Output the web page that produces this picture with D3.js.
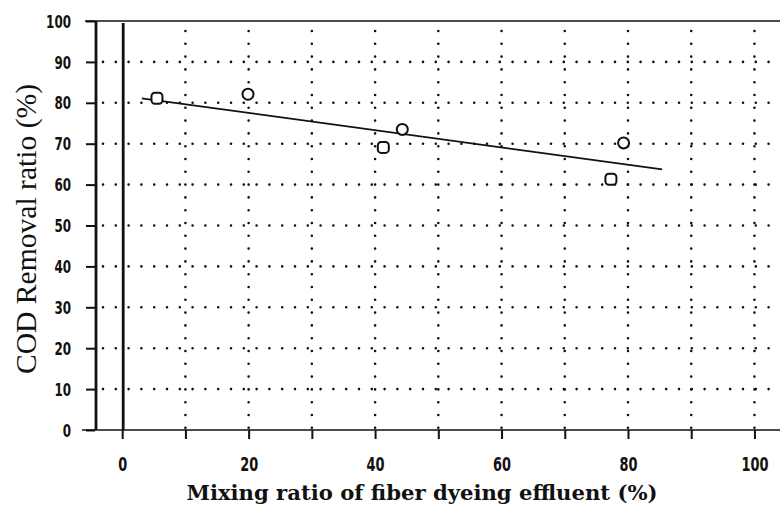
<!DOCTYPE html>
<html>
<head>
<meta charset="utf-8">
<script src="https://cdn.jsdelivr.net/npm/d3@7"></script>
<style>
  body { margin: 0; background: #fff; }
  svg { display: block; }
</style>
</head>
<body>
<script>
//////////////////////////////////////////////////////////////////////////////
// Data
//////////////////////////////////////////////////////////////////////////////
// open circles
let circleMix = [19.9, 44.3, 79.3]
let circleCod = [82.1, 73.5, 70.2]
// open (rounded) squares
let squareMix = [5.5, 41.3, 77.3]
let squareCod = [81.1, 69.1, 61.3]
// fitted line end points
let fitMix = [3.1, 85.4]
let fitCod = [81.1, 63.7]

let yTicks = [0, 10, 20, 30, 40, 50, 60, 70, 80, 90, 100]
let xTicks = [0, 10, 20, 30, 40, 50, 60, 70, 80, 90, 100]
let xLabels = [0, 20, 40, 60, 80, 100]

let xTitle = 'Mixing ratio of fiber dyeing effluent (%)'
let yTitle = 'COD Removal ratio (%)'

//////////////////////////////////////////////////////////////////////////////
let width = 780
let height = 510
let ink = '#111'
let tickFont = '"DejaVu Sans Condensed", "DejaVu Sans", sans-serif'

let svg = d3
  .select('body')
  .append('svg')
  .attr('width', width)
  .attr('height', height)

let x = d3.scaleLinear().domain([-4.3, 104.2]).range([95, 781])
let y = d3.scaleLinear().domain([0, 100]).range([430, 21])

// dotted grid
let dots = '0 12.8'
svg
  .append('g')
  .selectAll('line')
  .data(yTicks.filter(d => d > 0 && d < 100))
  .join('line')
  .attr('x1', x(-4.3) + 8)
  .attr('x2', width)
  .attr('y1', d => y(d))
  .attr('y2', d => y(d))
  .attr('stroke', ink)
  .attr('stroke-width', 2.6)
  .attr('stroke-linecap', 'round')
  .attr('stroke-dasharray', dots)

svg
  .append('g')
  .selectAll('line')
  .data(xTicks.filter(d => d > 0))
  .join('line')
  .attr('x1', d => x(d))
  .attr('x2', d => x(d))
  .attr('y1', y(100) + 10)
  .attr('y2', y(0))
  .attr('stroke', ink)
  .attr('stroke-width', 2.6)
  .attr('stroke-linecap', 'round')
  .attr('stroke-dasharray', dots)

// frame: top and bottom thin lines, thick left axis and thick zero line
svg
  .append('line')
  .attr('x1', 85)
  .attr('x2', width)
  .attr('y1', y(100))
  .attr('y2', y(100))
  .attr('stroke', ink)
  .attr('stroke-width', 1.6)

let xAxis = d3
  .axisBottom(x)
  .tickValues(xTicks)
  .tickSize(9)
  .tickFormat(d => (xLabels.includes(d) ? d : ''))
let xg = svg
  .append('g')
  .attr('transform', `translate(0,${y(0)})`)
  .call(xAxis)
xg.select('.domain').remove()
xg.append('line')
  .attr('x1', 82)
  .attr('x2', width)
  .attr('stroke', ink)
  .attr('stroke-width', 1.6)
xg.selectAll('.tick line').attr('stroke', ink).attr('stroke-width', 2)
// squeeze the digits so they look tall and narrow like the scan
xg.selectAll('.tick text')
  .attr('fill', ink)
  .attr('y', 28)
  .attr('textLength', d => String(d).length * 9)
  .attr('lengthAdjust', 'spacingAndGlyphs')
  .style('font-family', tickFont)
  .style('font-weight', 'bold')
  .style('font-size', '19px')

let yAxis = d3.axisLeft(y).tickValues(yTicks).tickSize(9)
let yg = svg
  .append('g')
  .attr('transform', `translate(${x(-4.3)},0)`)
  .call(yAxis)
yg.select('.domain').remove()
yg.selectAll('.tick line').attr('stroke', ink).attr('stroke-width', 2)
yg.selectAll('.tick text')
  .attr('fill', ink)
  .attr('x', -24)
  .attr('dy', '0.36em')
  .attr('textLength', d => String(d).length * 8.3)
  .attr('lengthAdjust', 'spacingAndGlyphs')
  .style('font-family', tickFont)
  .style('font-weight', 'bold')
  .style('font-size', '17px')

svg
  .append('line')
  .attr('x1', x(-4.3) + 1)
  .attr('x2', x(-4.3) + 1)
  .attr('y1', y(100))
  .attr('y2', y(0))
  .attr('stroke', ink)
  .attr('stroke-width', 2.8)

svg
  .append('line')
  .attr('x1', x(0) + 1)
  .attr('x2', x(0) + 1)
  .attr('y1', y(100) + 2)
  .attr('y2', y(0))
  .attr('stroke', ink)
  .attr('stroke-width', 2.8)

// fitted line
let fit = fitMix.map((d, i) => [d, fitCod[i]])
svg
  .append('path')
  .datum(fit)
  .attr('d', d3.line().x(d => x(d[0])).y(d => y(d[1])))
  .attr('fill', 'none')
  .attr('stroke', ink)
  .attr('stroke-width', 1.8)

// markers
svg
  .append('g')
  .selectAll('circle')
  .data(circleMix.map((d, i) => [d, circleCod[i]]))
  .join('circle')
  .attr('cx', d => x(d[0]))
  .attr('cy', d => y(d[1]))
  .attr('r', 5.5)
  .attr('fill', '#fff')
  .attr('stroke', ink)
  .attr('stroke-width', 2)

svg
  .append('g')
  .selectAll('rect')
  .data(squareMix.map((d, i) => [d, squareCod[i]]))
  .join('rect')
  .attr('x', d => x(d[0]) - 5.5)
  .attr('y', d => y(d[1]) - 5.5)
  .attr('width', 11)
  .attr('height', 11)
  .attr('rx', 3.5)
  .attr('fill', '#fff')
  .attr('stroke', ink)
  .attr('stroke-width', 2)

// axis titles
svg
  .append('text')
  .attr('x', 422)
  .attr('y', 500)
  .attr('text-anchor', 'middle')
  .attr('textLength', 471)
  .attr('lengthAdjust', 'spacingAndGlyphs')
  .attr('fill', ink)
  .style('font-family', '"DejaVu Serif", "Liberation Serif", serif')
  .style('font-weight', 'bold')
  .style('font-size', '20px')
  .text(xTitle)

svg
  .append('text')
  .attr('transform', 'translate(36,229) rotate(-90)')
  .attr('text-anchor', 'middle')
  .attr('textLength', 290)
  .attr('lengthAdjust', 'spacingAndGlyphs')
  .attr('fill', ink)
  .style('font-family', '"Liberation Serif", "DejaVu Serif", serif')
  .style('font-size', '30px')
  .text(yTitle)
</script>
</body>
</html>
